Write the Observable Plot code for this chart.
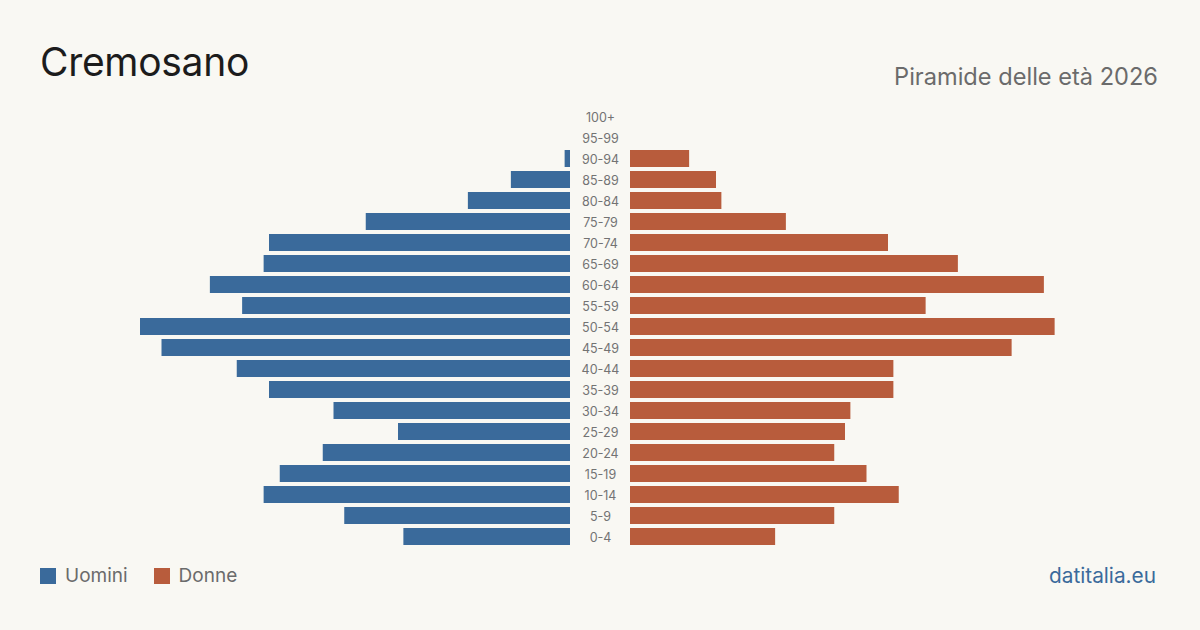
<!DOCTYPE html>
<html>
<head>
<meta charset="utf-8">
<script src="https://cdn.jsdelivr.net/npm/d3@7"></script>
<script src="https://cdn.jsdelivr.net/npm/@observablehq/plot@0.6"></script>
<style>
  html, body { margin: 0; padding: 0; background: #f9f8f3; }
  #page { position: relative; width: 1200px; height: 630px; overflow: hidden; background: #f9f8f3; font-family: Inter, "Noto Sans", sans-serif; }
  #title { position: absolute; left: 40px; top: 42px; font-size: 39px; letter-spacing: -0.3px; color: #1c1c1c; line-height: 1; }
  #subtitle { position: absolute; right: 42px; top: 65px; font-size: 23.6px; color: #6b6b6b; line-height: 1; }
  #chart { position: absolute; left: 0; top: 0; }
  #legend { position: absolute; left: 40px; top: 566px; font-size: 19px; color: #6b6b6b; display: flex; align-items: center; line-height: 20px; }
  #legend .sw { width: 16px; height: 16px; display: inline-block; margin-right: 9px; }
  #legend .item { display: flex; align-items: center; margin-right: 26px; }
  #source { position: absolute; right: 44px; top: 565px; font-size: 20.8px; color: #3a6a9b; line-height: 22px; }
</style>
</head>
<body>
<div id="page">
  <div id="title">Cremosano</div>
  <div id="subtitle">Piramide delle età 2026</div>
  <div id="chart"></div>
  <div id="legend"></div>
  <div id="source">datitalia.eu</div>
</div>
<script>
// Age classes, from oldest (top) to youngest (bottom)
const ageClasses = ["100+", "95-99", "90-94", "85-89", "80-84", "75-79", "70-74", "65-69", "60-64", "55-59",
  "50-54", "45-49", "40-44", "35-39", "30-34", "25-29", "20-24", "15-19", "10-14", "5-9", "0-4"];

// Residents per age class
const men   = [0, 0, 1, 11, 19, 38, 56, 57, 67, 61, 80, 76, 62, 56, 44, 32, 46, 54, 57, 42, 31];
const women = [0, 0, 11, 16, 17, 29, 48, 61, 77, 55, 79, 71, 49, 49, 41, 40, 38, 44, 50, 38, 27];

const seriesNames = ["Uomini", "Donne"];
const seriesColors = ["#3a6a9b", "#b85c3c"];

const maxValue = 80;
const gapPx = 30;                 // half the width of the central label column
const halfPx = 460;               // from centre to the outer end of the axis
const gap = gapPx * maxValue / (halfPx - gapPx);   // gap expressed in value units
const extent = maxValue + gap;

const rows = ageClasses.map((age, i) => ({age, men: men[i], women: women[i]}));

const chart = Plot.plot({
  width: 1200,
  height: 630,
  marginLeft: 140,
  marginRight: 140,
  marginTop: 104.5,
  marginBottom: 80.5,
  style: {background: "transparent", fontFamily: "Inter, 'Noto Sans', sans-serif"},
  x: {domain: [-extent, extent], axis: null},
  y: {domain: ageClasses, padding: 0.19, axis: null},
  marks: [
    Plot.barX(rows.filter(d => d.men > 0), {
      y: "age", x1: -gap, x2: d => -gap - d.men, fill: seriesColors[0]
    }),
    Plot.barX(rows.filter(d => d.women > 0), {
      y: "age", x1: gap, x2: d => gap + d.women, fill: seriesColors[1]
    }),
    Plot.text(rows, {
      y: "age", x: 0, dy: 1, text: "age", fill: "#737373", fontSize: 12.5, textAnchor: "middle"
    })
  ]
});
document.getElementById("chart").appendChild(chart);

const legend = document.getElementById("legend");
seriesNames.forEach((name, i) => {
  const item = document.createElement("span");
  item.className = "item";
  const sw = document.createElement("span");
  sw.className = "sw";
  sw.style.background = seriesColors[i];
  item.appendChild(sw);
  item.appendChild(document.createTextNode(name));
  legend.appendChild(item);
});
</script>
</body>
</html>
